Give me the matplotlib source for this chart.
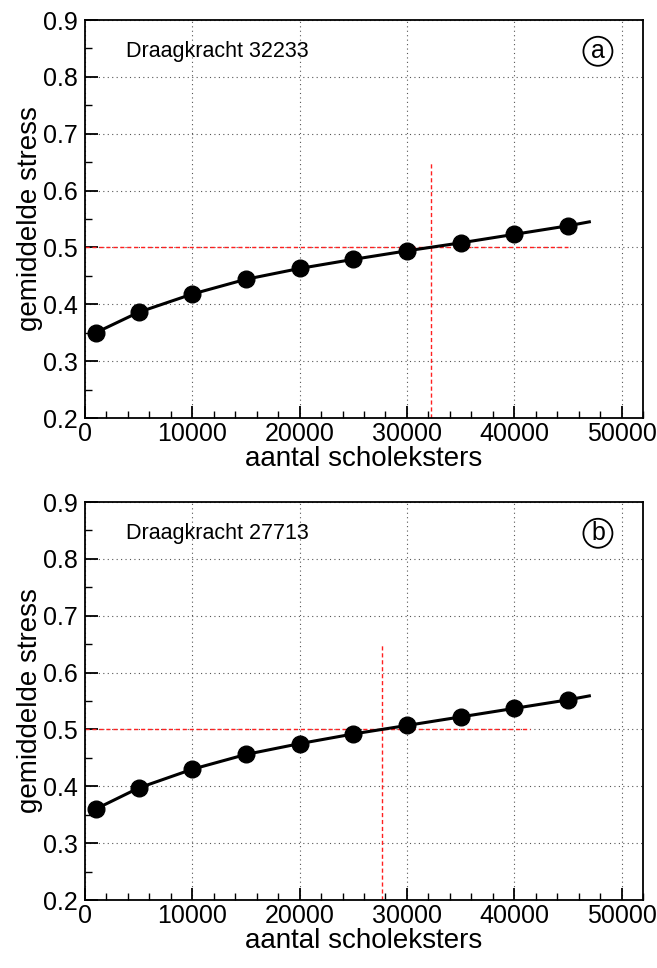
import matplotlib
matplotlib.use("Agg")
import matplotlib.pyplot as plt
from matplotlib.ticker import MultipleLocator

plt.rcParams['font.family'] = ['Liberation Sans', 'DejaVu Sans']

# data
aantal = [1000, 5000, 10000, 15000, 20000, 25000, 30000, 35000, 40000, 45000]
stress_a = [0.350, 0.386, 0.418, 0.444, 0.463, 0.479, 0.494, 0.508, 0.523, 0.538]
stress_b = [0.360, 0.397, 0.430, 0.456, 0.475, 0.492, 0.507, 0.522, 0.537, 0.552]
# fitted curve runs a little past the last point
curve_end_x = 47000
curve_end_a = 0.545
curve_end_b = 0.559

draagkracht = [32233, 27713]
red_h_end = [45000, 41500]
labels = ['a', 'b']

fig = plt.figure(figsize=(6.57, 9.68), dpi=100)
W, H = 657, 968
ax_a = fig.add_axes([85 / W, 1 - 418 / H, 558 / W, 398 / H])
ax_b = fig.add_axes([85 / W, 1 - 900 / H, 558 / W, 398 / H])

panels = [(ax_a, stress_a, curve_end_a), (ax_b, stress_b, curve_end_b)]
for i, (ax, ys, yend) in enumerate(panels):
    ax.set_xlim(0, 52000)
    ax.set_ylim(0.2, 0.9)
    ax.grid(True, color='#555555', linestyle=(0, (1, 3)), linewidth=0.8)
    ax.set_axisbelow(True)

    # red reference lines
    ax.plot([0, red_h_end[i]], [0.5, 0.5], color='#ff2020', lw=1.0,
            linestyle=(0, (3, 2)), zorder=2)
    ax.plot([draagkracht[i], draagkracht[i]], [0.2, 0.65], color='#ff2020', lw=1.0,
            linestyle=(0, (3, 2)), zorder=2)

    ax.plot(aantal + [curve_end_x], ys + [yend], color='black', lw=2.2, zorder=3)
    ax.plot(aantal, ys, 'o', color='black', ms=12, zorder=4)

    ax.xaxis.set_major_locator(MultipleLocator(10000))
    ax.xaxis.set_minor_locator(MultipleLocator(2000))
    ax.yaxis.set_major_locator(MultipleLocator(0.1))
    ax.yaxis.set_minor_locator(MultipleLocator(0.05))
    ax.set_yticklabels([f'{v:.1f}' for v in ax.get_yticks()])
    ax.tick_params(which='both', direction='in', top=False, right=False,
                   labelsize=18)
    ax.tick_params(which='major', length=9, width=1.3)
    ax.tick_params(axis='x', which='major', pad=3)
    ax.tick_params(axis='y', which='major', pad=5)
    ax.tick_params(which='minor', length=5, width=1.0)
    for s in ax.spines.values():
        s.set_linewidth(1.3)

    ax.set_xlabel('aantal scholeksters', fontsize=20, labelpad=0)
    ax.set_ylabel('gemiddelde stress', fontsize=20, labelpad=0)

    ax.text(3800, 0.845, f'Draagkracht {draagkracht[i]}', fontsize=15.5,
            va='center', ha='left')
    ax.text(47800, 0.845, labels[i], fontsize=18, va='center', ha='center',
            bbox=dict(boxstyle='circle,pad=0.1', fc='white', ec='black', lw=1.3))

fig.savefig('out.png', dpi=100)
